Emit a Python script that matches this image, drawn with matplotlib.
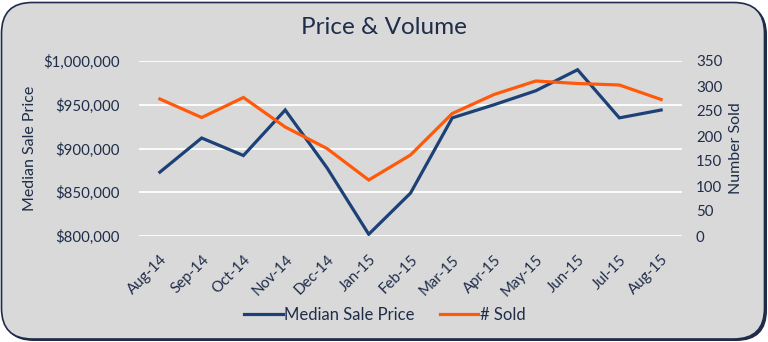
import matplotlib
matplotlib.use("Agg")
import matplotlib.pyplot as plt
from matplotlib.patches import FancyBboxPatch
from matplotlib.ticker import FuncFormatter

plt.rcParams["font.family"] = ["Lato", "DejaVu Sans"]

# data
months = ["Aug-14", "Sep-14", "Oct-14", "Nov-14", "Dec-14", "Jan-15", "Feb-15",
          "Mar-15", "Apr-15", "May-15", "Jun-15", "Jul-15", "Aug-15"]
median_price = [873000, 912000, 892000, 944000, 878000, 802000, 849000,
                935000, 950000, 966000, 990000, 935000, 944000]
num_sold = [274, 237, 277, 218, 175, 112, 162, 245, 283, 310, 305, 302, 273]

price_ticks = [800000, 850000, 900000, 950000, 1000000]
sold_ticks = [0, 50, 100, 150, 200, 250, 300, 350]

NAVY = "#1f2d4a"
BLUE = "#1c4176"
ORANGE = "#ff5a0a"
PANEL = "#d9d9d9"

fig = plt.figure(figsize=(7.68, 3.42), dpi=100, facecolor="white")

# rounded panel with a dark edge (slight shadow to the bottom/right)
shadow = FancyBboxPatch((3 / 768, 1 / 342), 764 / 768, 337 / 342,
                        boxstyle="round,pad=0,rounding_size=0.04",
                        transform=fig.transFigure, facecolor=NAVY,
                        edgecolor=NAVY, linewidth=0, mutation_aspect=768 / 342,
                        zorder=-3)
panel = FancyBboxPatch((1.5 / 768, 3 / 342), 763 / 768, 336.5 / 342,
                       boxstyle="round,pad=0,rounding_size=0.04",
                       transform=fig.transFigure, facecolor=PANEL,
                       edgecolor=NAVY, linewidth=1.2, mutation_aspect=768 / 342,
                       zorder=-2)
fig.patches.extend([shadow, panel])

ax = fig.add_axes([139 / 768, 1 - 236 / 342, (682 - 139) / 768, 175 / 342])
ax.set_facecolor("none")
ax2 = ax.twinx()

x = list(range(len(months)))
l1, = ax.plot(x, median_price, color=BLUE, lw=2.3, solid_joinstyle="miter",
              label="Median Sale Price")
l2, = ax2.plot(x, num_sold, color=ORANGE, lw=2.3, solid_joinstyle="miter",
               label="# Sold")

ax.set_xlim(-0.5, len(months) - 0.5)
ax.set_ylim(800000, 1000000)
ax.set_yticks(price_ticks)
ax.yaxis.set_major_formatter(FuncFormatter(lambda v, p: f"${v:,.0f}"))
ax2.set_ylim(0, 350)
ax2.set_yticks(sold_ticks)

ax.grid(axis="y", color="white", lw=1.3)
ax.set_axisbelow(True)
for a in (ax, ax2):
    for s in a.spines.values():
        s.set_visible(False)
    a.tick_params(length=0, labelsize=10.8, colors=NAVY)

ax.tick_params(axis="y", pad=14)
ax2.tick_params(axis="y", pad=10)
ax.set_xticks(x)
ax.set_xticklabels(months, rotation=45, ha="right", rotation_mode="anchor")
ax.tick_params(axis="x", pad=12)

ax.set_ylabel("Median Sale Price", fontsize=11.5, color=NAVY, labelpad=4)
ax2.set_ylabel("Number Sold", fontsize=11.5, color=NAVY, labelpad=5)

fig.text(0.5, 1 - 27 / 342, "Price & Volume", ha="center", va="center",
         fontsize=17.5, color=NAVY)

fig.legend(handles=[l1, l2], loc="center", bbox_to_anchor=(385 / 768, 1 - 315 / 342),
           ncol=2, frameon=False, fontsize=12, handlelength=2.3,
           handletextpad=0.1, columnspacing=1.5, labelcolor=NAVY)

fig.savefig("out.png", dpi=100, facecolor="white")
